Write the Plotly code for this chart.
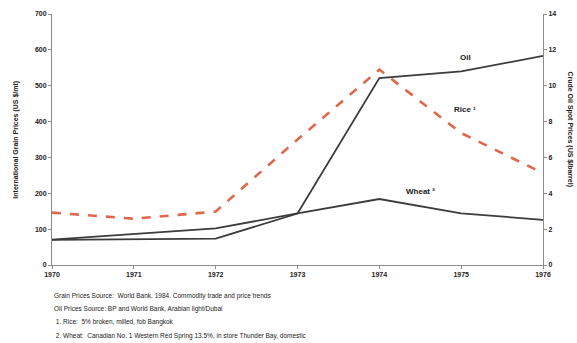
import plotly.graph_objects as go

years = [1970, 1971, 1972, 1973, 1974, 1975, 1976]
rice = [146, 129, 149, 350, 545, 368, 256]        # US $/mt
wheat = [71, 86, 102, 144, 184, 144, 126]         # US $/mt
oil = [1.4, 1.45, 1.47, 2.87, 10.43, 10.8, 11.66]  # US $/barrel

left_ticks = [0, 100, 200, 300, 400, 500, 600, 700]
right_ticks = [0, 2, 4, 6, 8, 10, 12, 14]

footnotes = [
    "Grain Prices Source:  World Bank. 1984. Commodity trade and price trends",
    "Oil Prices Source: BP and World Bank, Arabian light/Dubai",
    " 1. Rice:  5% broken, milled, fob Bangkok",
    " 2. Wheat:  Canadian No. 1 Western Red Spring 13.5%, in store Thunder Bay, domestic",
]

FONT = "Liberation Sans"
dark = "#3c3c3c"

fig = go.Figure()
fig.add_trace(go.Scatter(x=years, y=rice, mode="lines", name="Rice",
                         line=dict(color="#E0674A", width=2.6, dash="dash")))
fig.add_trace(go.Scatter(x=years, y=wheat, mode="lines", name="Wheat",
                         line=dict(color=dark, width=1.8)))
fig.add_trace(go.Scatter(x=years, y=oil, mode="lines", name="Oil", yaxis="y2",
                         line=dict(color=dark, width=1.8)))

axis_common = dict(showline=True, linecolor="#8c8c8c", linewidth=1,
                   ticks="outside", ticklen=3, tickcolor="#8c8c8c",
                   showgrid=False, zeroline=False,
                   tickfont=dict(family=FONT, size=7, color="#222"))

fig.update_layout(
    width=577, height=343,
    margin=dict(l=52, r=34, t=10, b=78),
    paper_bgcolor="white", plot_bgcolor="white",
    showlegend=False,
    font=dict(family=FONT),
    xaxis=dict(range=[1970, 1976], tickvals=years,
               ticktext=[f"<b>{y}</b>" for y in years], **axis_common),
    yaxis=dict(range=[0, 700], tickvals=left_ticks,
               ticktext=[f"<b>{v}</b>" for v in left_ticks], **axis_common),
    yaxis2=dict(range=[0, 14], tickvals=right_ticks, overlaying="y", side="right",
                ticktext=[f"<b>{v}</b>" for v in right_ticks], **axis_common),
)

# Axis titles
fig.add_annotation(text="<b>International Grain Prices (US $/mt)</b>",
                   xref="paper", yref="paper", x=-0.075, y=0.5, textangle=-90,
                   showarrow=False, font=dict(size=7, color="#222"),
                   xanchor="center", yanchor="middle")
fig.add_annotation(text="<b>Crude Oil Spot Prices (US $/barrel)</b>",
                   xref="paper", yref="paper", x=1.055, y=0.54, textangle=90,
                   showarrow=False, font=dict(size=7, color="#222"),
                   xanchor="center", yanchor="middle")

# Series labels
fig.add_annotation(text="<b>Oil</b>", x=1975.05, y=580, showarrow=False,
                   font=dict(size=8, color="#222"))
fig.add_annotation(text="<b>Rice \u00b9</b>", x=1975.05, y=434, showarrow=False,
                   font=dict(size=8, color="#222"))
fig.add_annotation(text="<b>Wheat \u00b2</b>", x=1974.5, y=206, showarrow=False,
                   font=dict(size=8, color="#222"))

# Source notes under the chart
for i, line in enumerate(footnotes):
    fig.add_annotation(text=line, xref="paper", yref="paper",
                       x=0.0, y=-0.125 - i * 0.052, xanchor="left", yanchor="middle",
                       showarrow=False, font=dict(size=6.5, color="#222"))

fig.write_html("out.html")
